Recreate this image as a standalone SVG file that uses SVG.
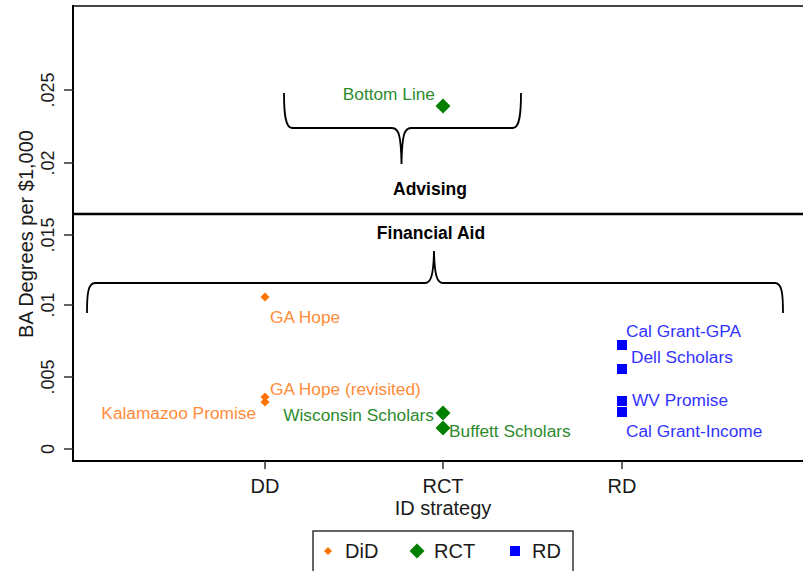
<svg xmlns="http://www.w3.org/2000/svg" width="803" height="571" viewBox="0 0 803 571">
<style>
.ax{stroke:#000;stroke-width:2;fill:none}
.tk{stroke:#333;stroke-width:1.5}
.tl{font-family:"Liberation Sans",Arial,sans-serif;font-size:18px;fill:#1a1a1a}
.ttl{font-family:"Liberation Sans",Arial,sans-serif;font-size:20px;fill:#1a1a1a}
.lab{font-family:"Liberation Sans",Arial,sans-serif;font-size:17.3px}
.or{fill:#FF8C3A}
.gr{fill:#2E8B2E}
.bl{fill:#3333FF}
.brace{stroke:#000;stroke-width:1.8;fill:none}
.bold{font-family:"Liberation Sans",Arial,sans-serif;font-size:17.5px;font-weight:bold;fill:#000}
</style>
<defs>
<polygon id="dSmall" points="0,-4.5 4.5,0 0,4.5 -4.5,0" fill="#FF7400"/>
<polygon id="dBig" points="0,-7.5 7.5,0 0,7.5 -7.5,0" fill="#007F00"/>
<rect id="sq" x="-5" y="-5" width="10" height="10" fill="#0000FF"/>
</defs>
<rect width="803" height="571" fill="#fff"/>
<g id="axes">
<line x1="73" y1="6" x2="803" y2="6" stroke="#444" stroke-width="2"/>
<line class="ax" x1="73" y1="5" x2="73" y2="462"/>
<line class="ax" x1="72" y1="461" x2="803" y2="461"/>
<line x1="73" y1="214" x2="803" y2="214" stroke="#000" stroke-width="2.5"/>
<line class="tk" x1="64" y1="90" x2="73" y2="90"/>
<line class="tk" x1="64" y1="163" x2="73" y2="163"/>
<line class="tk" x1="64" y1="235" x2="73" y2="235"/>
<line class="tk" x1="64" y1="305" x2="73" y2="305"/>
<line class="tk" x1="64" y1="377" x2="73" y2="377"/>
<line class="tk" x1="64" y1="449" x2="73" y2="449"/>
<line class="tk" x1="265" y1="461" x2="265" y2="469"/>
<line class="tk" x1="443" y1="461" x2="443" y2="469"/>
<line class="tk" x1="622" y1="461" x2="622" y2="469"/>
<text class="tl" text-anchor="middle" transform="translate(54,90) rotate(-90)">.025</text>
<text class="tl" text-anchor="middle" transform="translate(54,163) rotate(-90)">.02</text>
<text class="tl" text-anchor="middle" transform="translate(54,235) rotate(-90)">.015</text>
<text class="tl" text-anchor="middle" transform="translate(54,305) rotate(-90)">.01</text>
<text class="tl" text-anchor="middle" transform="translate(54,377) rotate(-90)">.005</text>
<text class="tl" text-anchor="middle" transform="translate(54,449) rotate(-90)">0</text>
<text class="ttl" text-anchor="middle" transform="translate(33,234) rotate(-90)">BA Degrees per $1,000</text>
<text class="ttl" x="265" y="493" text-anchor="middle">DD</text>
<text class="ttl" x="443" y="493" text-anchor="middle">RCT</text>
<text class="ttl" x="622" y="493" text-anchor="middle">RD</text>
<text class="ttl" x="443" y="515" text-anchor="middle">ID strategy</text>
</g>
<g id="advising">
<path class="brace" d="M284,93 C284,112 285,128 292,128 L392,128 C399,128 401,136 401.5,164 C402,136 404,128 411,128 L513,128 C520,128 521,112 521,93"/>
<text class="bold" x="430" y="195" text-anchor="middle">Advising</text>
</g>
<g id="financial-aid">
<path class="brace" d="M87,313 C87,294 88,283 95,283 L425,283 C431,283 433.5,275 434,251 C434.5,275 437,283 443,283 L775,283 C782,283 783,294 783,313"/>
<text class="bold" x="431" y="239" text-anchor="middle">Financial Aid</text>
</g>
<g id="bottom-line">
<use href="#dBig" x="443" y="106"/>
<text class="lab gr" x="435" y="100" text-anchor="end">Bottom Line</text>
</g>
<g id="ga-hope">
<use href="#dSmall" x="265" y="297"/>
<text class="lab or" x="270" y="323">GA Hope</text>
</g>
<g id="ga-hope-revisited">
<use href="#dSmall" x="265" y="397"/>
<text class="lab or" x="270" y="395">GA Hope (revisited)</text>
</g>
<g id="kalamazoo">
<use href="#dSmall" x="265" y="402"/>
<text class="lab or" x="256" y="419" text-anchor="end">Kalamazoo Promise</text>
</g>
<g id="wisconsin">
<use href="#dBig" x="443" y="413"/>
<text class="lab gr" x="434" y="421" text-anchor="end">Wisconsin Scholars</text>
</g>
<g id="buffett">
<use href="#dBig" x="443" y="428"/>
<text class="lab gr" x="449" y="437">Buffett Scholars</text>
</g>
<g id="cal-grant-gpa">
<use href="#sq" x="622" y="345"/>
<text class="lab bl" x="626" y="337">Cal Grant-GPA</text>
</g>
<g id="dell">
<use href="#sq" x="622" y="369"/>
<text class="lab bl" x="631" y="363">Dell Scholars</text>
</g>
<g id="wv">
<use href="#sq" x="622" y="401"/>
<text class="lab bl" x="632" y="406">WV Promise</text>
</g>
<g id="cal-grant-income">
<use href="#sq" x="622" y="412"/>
<text class="lab bl" x="626" y="437">Cal Grant-Income</text>
</g>
<g id="legend">
<rect x="313" y="531" width="260" height="46" fill="#fff" stroke="#333" stroke-width="1.5"/>
<polygon points="328,547 332,551 328,555 324,551" fill="#FF7400"/>
<text class="ttl" x="345" y="558">DiD</text>
<use href="#dBig" x="417" y="551"/>
<text class="ttl" x="434" y="558">RCT</text>
<rect x="510" y="546" width="10" height="10" fill="#0000FF"/>
<text class="ttl" x="532" y="558">RD</text>
</g>
</svg>
